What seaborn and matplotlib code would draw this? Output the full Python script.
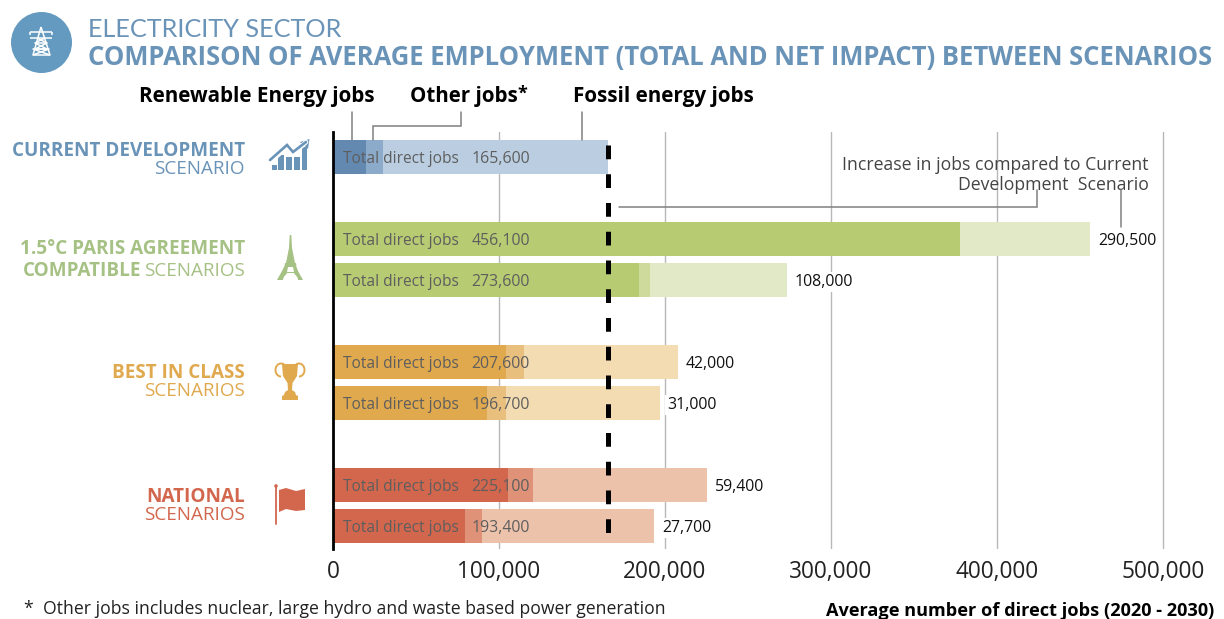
import matplotlib
matplotlib.use("Agg")
import matplotlib.pyplot as plt
import numpy as np
import pandas as pd
import seaborn as sns
from matplotlib.patches import Circle, Polygon, Rectangle, Arc, Ellipse

# Jobs per scenario, average 2020-2030
scenarios = ["Current", "Paris high", "Paris low", "Best high", "Best low", "National high", "National low"]
row_order = ["Current", " ", "Paris high", "Paris low", "  ", "Best high", "Best low", "   ", "National high", "National low"]
renewable_jobs = [20000, 378000, 184500, 104000, 93000, 105500, 79500]
other_jobs = [10000, 0, 6500, 11000, 11000, 15000, 10000]
total_jobs = [165600, 456100, 273600, 207600, 196700, 225100, 193400]
job_increase = [None, 290500, 108000, 42000, 31000, 59400, 27700]
x_ticks = [0, 100000, 200000, 300000, 400000, 500000]

dark_colors = ["#6389B0", "#B7CB72", "#B7CB72", "#E0A94E", "#E0A94E", "#D2674E", "#D2674E"]
mid_colors = ["#8CABCA", "#CDDA9B", "#CDDA9B", "#E9BF7E", "#E9BF7E", "#DF9278", "#DF9278"]
light_colors = ["#BBCEE1", "#E2E9C6", "#E2E9C6", "#F3DCB2", "#F3DCB2", "#EDC2AB", "#EDC2AB"]

BLUE, GREEN, ORANGE, RED = "#6A93B8", "#A6C184", "#E0A94E", "#D2674E"
TEXT_FONT = ["Open Sans", "DejaVu Sans"]

sns.set_style("white")
plt.rcParams["font.family"] = TEXT_FONT

W, H = 1224, 619
fig = plt.figure(figsize=(W / 100, H / 100), dpi=100)
ax = fig.add_axes([333 / W, 1 - 549 / H, (W - 333) / W, (549 - 132) / H])

df = pd.DataFrame({
    "row": scenarios,
    "renewable": renewable_jobs,
    "other": other_jobs,
    "total": total_jobs,
})
df["non_fossil"] = df["renewable"] + df["other"]

# Layered bars: full total, then renewable + other, then renewable alone
for column, colors in [("total", light_colors), ("non_fossil", mid_colors), ("renewable", dark_colors)]:
    sns.barplot(data=df, y="row", x=column, hue="row", order=row_order, hue_order=scenarios,
                palette=colors, width=0.84, dodge=False, legend=False, saturation=1, ax=ax,
                zorder=2, linewidth=0)

ax.set_xlim(0, (W - 333) / 166 * 100000)
ax.set_ylim(9.56, -0.61)
ax.set_xticks(x_ticks)
ax.set_xticklabels([f"{t:,}" for t in x_ticks], fontsize=16.3, color="#222222")
ax.set_yticks([])
ax.set_xlabel("")
ax.set_ylabel("")
ax.set_axisbelow(True)
ax.grid(axis="x", color="#B8B8B8", lw=1)
ax.grid(axis="y", visible=False)
ax.tick_params(axis="x", length=0, pad=8)
ax.patch.set_alpha(0)
for side in ["top", "right", "bottom"]:
    ax.spines[side].set_visible(False)
ax.spines["left"].set_color("black")
ax.spines["left"].set_linewidth(2)

# Reference level set by the current development scenario
ax.plot([total_jobs[0]] * 2, [-0.29, 9.5], color="black", lw=3.6,
        linestyle=(0, (2.75, 3.0)), dash_capstyle="butt", zorder=5)

# Labels on and beside the bars
for name, total, inc in zip(scenarios, total_jobs, job_increase):
    row = row_order.index(name)
    ax.annotate("Total direct jobs", (0, row), xytext=(7.2, -1.2), textcoords="offset points",
                va="center", ha="left", fontsize=11.2, color="#5E5E5E", zorder=6)
    ax.annotate(f"{total:,}", (0, row), xytext=(99.5, -1.2), textcoords="offset points",
                va="center", ha="left", fontsize=11.4, color="#5E5E5E", zorder=6)
    if inc is not None:
        ax.annotate(f"{inc:,}", (total, row), xytext=(5.6, -1.2), textcoords="offset points",
                    va="center", ha="left", fontsize=11.4, color="#111111", zorder=6,
                    bbox=dict(facecolor="white", edgecolor="none", pad=1.5))

# Overlay in pixel units for titles, leaders and icons
ov = fig.add_axes([0, 0, 1, 1])
ov.set_xlim(0, W)
ov.set_ylim(H, 0)
ov.axis("off")
ov.patch.set_alpha(0)


def label(x, y, s, **kw):
    kw.setdefault("va", "center")
    ov.text(x, y + 1.5, s, **kw)


def leader(xs, ys):
    ov.plot(xs, ys, color="#808080", lw=1.1, solid_joinstyle="miter", zorder=3)


def poly(points, color, **kw):
    ov.add_patch(Polygon(points, closed=True, facecolor=color, edgecolor="none", **kw))


label(88, 28, "ELECTRICITY SECTOR", fontsize=18.15, color=BLUE, fontfamily=["Lato", "DejaVu Sans"])
label(88, 56, "COMPARISON OF AVERAGE EMPLOYMENT (TOTAL AND NET IMPACT) BETWEEN SCENARIOS",
      fontsize=18.43, fontweight="bold", color=BLUE)

label(139, 95, "Renewable Energy jobs", fontsize=14.85, fontweight="bold", color="black")
label(410, 95, "Other jobs", fontsize=14.8, fontweight="bold", color="black")
label(517, 92, "*", fontsize=13, fontweight="bold", color="black")
label(573, 95, "Fossil energy jobs", fontsize=14.85, fontweight="bold", color="black")
leader([352, 352], [112, 140])
leader([461, 461, 373, 373], [112, 126, 126, 140])
leader([582, 582], [112, 140])

label(1149, 164, "Increase in jobs compared to Current", ha="right", fontsize=12.7, color="#444444")
label(1149, 184, "Development  Scenario", ha="right", fontsize=12.7, color="#444444")
leader([619, 1037, 1037], [207, 207, 190])
leader([1121, 1121], [190, 227])

label(245, 149.5, "CURRENT DEVELOPMENT", ha="right", fontsize=13.55, fontweight="bold", color=BLUE)
label(245, 167.5, "SCENARIO", ha="right", fontsize=13.55, color=BLUE)
label(245, 248, "1.5°C PARIS AGREEMENT", ha="right", fontsize=13.55, fontweight="bold", color=GREEN)
label(245, 270, "SCENARIOS", ha="right", fontsize=13.55, color=GREEN)
label(141.5, 270, "COMPATIBLE", ha="right", fontsize=13.55, fontweight="bold", color=GREEN)
label(245, 372, "BEST IN CLASS", ha="right", fontsize=13.55, fontweight="bold", color=ORANGE)
label(245, 390, "SCENARIOS", ha="right", fontsize=13.55, color=ORANGE)
label(245, 495, "NATIONAL", ha="right", fontsize=13.55, fontweight="bold", color=RED)
label(245, 514, "SCENARIOS", ha="right", fontsize=13.55, color=RED)

label(24, 607, "*  Other jobs includes nuclear, large hydro and waste based power generation",
      fontsize=12.72, color="#222222")
label(1214, 609, "Average number of direct jobs (2020 - 2030)", ha="right", fontsize=13.1,
      fontweight="bold", color="black")

# Sector badge with pylon
ov.add_patch(Circle((41.5, 42.5), 30.5, facecolor="#659AC0", edgecolor="none"))
pylon = dict(color="white", lw=1.1, solid_capstyle="butt")
ov.plot([41, 33, 50, 41], [27, 55, 55, 27], **pylon)
ov.plot([30, 52], [32, 32], **pylon)
ov.plot([30, 52], [38, 38], **pylon)
ov.plot([36, 47], [43, 43], **pylon)
ov.plot([37, 47, 35, 49, 33], [38, 43, 49, 49, 55], **pylon)
ov.plot([45, 35, 47, 33, 50], [38, 43, 49, 49, 55], **pylon)
ov.plot([30, 30], [32, 35], **pylon)
ov.plot([52, 52], [32, 35], **pylon)

# Growth chart icon
for x0, x1, top in [(272, 277, 165), (278, 284, 155), (286, 292, 157), (294, 300, 157), (302, 307, 147)]:
    ov.add_patch(Rectangle((x0, top), x1 - x0, 170 - top, facecolor=BLUE, edgecolor="none"))
ov.plot([270, 287, 293, 306], [162, 147, 154, 142], color="white", lw=3.4, solid_joinstyle="miter")
ov.plot([270, 287, 293, 306], [160, 145, 152, 142], color=BLUE, lw=1.9, solid_joinstyle="miter")
poly([(309.5, 139), (308, 149), (300, 142)], BLUE)

# Tower icon
poly([(289.7, 235), (291.3, 235), (292, 248), (295, 263), (298, 271), (303, 280), (298, 280),
      (294, 273), (287, 273), (283, 280), (277, 280), (282, 271), (286, 263), (289, 248)], GREEN)
ov.add_patch(Ellipse((290.5, 280), 15, 13, facecolor="white", edgecolor="none"))
poly([(285, 263), (296, 263), (296.5, 265.5), (284.5, 265.5)], GREEN)
poly([(288, 267), (293, 267), (294, 272), (287, 272)], "white")

# Trophy icon
poly([(282, 364), (298, 364), (297, 376), (292.5, 383), (292, 390), (295, 392), (296, 395), (298, 396),
      (298, 400), (282, 400), (282, 396), (284, 395), (285, 392), (288, 390), (287.5, 383), (283, 376)], ORANGE)
ov.add_patch(Arc((281, 370), 11, 13, theta1=90, theta2=300, color=ORANGE, lw=1.4))
ov.add_patch(Arc((299, 370), 11, 13, theta1=240, theta2=90, color=ORANGE, lw=1.4))

# Flag icon
ov.plot([276, 276], [486, 524], color=RED, lw=1.3)
ov.add_patch(Circle((276, 486), 1.8, facecolor=RED, edgecolor="none"))
poly([(279, 490), (286, 488), (296, 491), (305, 489), (305, 510), (296, 511), (286, 509), (279, 512)], RED)

fig.savefig("out.png", dpi=100)
